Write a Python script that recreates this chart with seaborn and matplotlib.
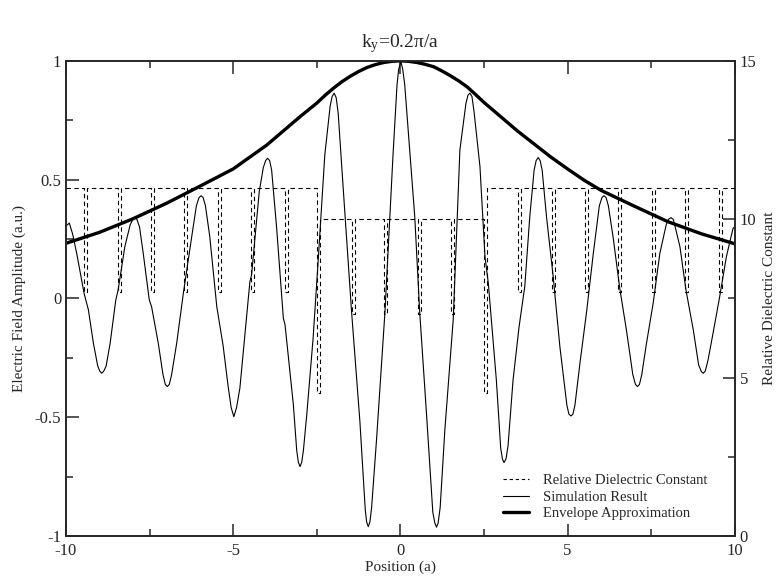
import matplotlib
matplotlib.use("Agg")
import matplotlib.pyplot as plt
import seaborn as sns
import pandas as pd
from matplotlib.ticker import MultipleLocator, FuncFormatter
from matplotlib.lines import Line2D

# ---------------- data ----------------
sim_x = [-10.00, -9.90, -9.80, -9.68, -9.55, -9.46, -9.33, -9.18, -9.05, -8.99,
         -8.93, -8.87, -8.80, -8.68, -8.51, -8.44, -8.24, -8.08, -8.00, -7.94,
         -7.88, -7.80, -7.69, -7.51, -7.44, -7.24, -7.10, -7.03, -6.97, -6.91,
         -6.84, -6.69, -6.49, -6.24, -6.10, -6.02, -5.96, -5.90, -5.83, -5.70,
         -5.49, -5.30, -5.15, -5.06, -4.98, -4.90, -4.80, -4.50,
         -4.45, -4.22, -4.10, -4.03, -3.97, -3.91, -3.85, -3.70, -3.50, -3.45,
         -3.20, -3.10, -3.05, -3.00, -2.95, -2.90, -2.80, -2.61, -2.46, -2.26,
         -2.10, -2.04, -1.98, -1.92, -1.86, -1.71, -1.46, -1.21, -1.05, -1.01,
         -0.96, -0.91, -0.86, -0.71, -0.46, -0.22, -0.10, -0.05, 0.015, 0.07,
         0.13, 0.28, 0.43, 0.58, 0.78, 0.97, 1.03, 1.08, 1.13, 1.19,
         1.33, 1.58, 1.78, 1.96, 2.02, 2.08, 2.14, 2.20, 2.38, 2.53,
         2.63, 2.87, 3.00, 3.05, 3.10, 3.16, 3.22, 3.37, 3.55, 3.72,
         3.87, 4.00, 4.06, 4.12, 4.18, 4.24, 4.37, 4.57, 4.77, 4.98,
         5.04, 5.10, 5.16, 5.22, 5.37, 5.57, 5.77, 5.95, 6.03, 6.09,
         6.15, 6.22, 6.36, 6.56, 6.76, 6.95, 7.03, 7.09, 7.15, 7.22,
         7.36, 7.56, 7.76, 7.95, 8.02, 8.09, 8.16, 8.22, 8.36, 8.54,
         8.76, 8.92, 9.00, 9.06, 9.12, 9.20, 9.35, 9.55, 9.75, 9.95,
         10.00]
sim_y = [0.305, 0.317, 0.27, 0.19, 0.09, 0.022, -0.048, -0.189, -0.285, -0.306,
         -0.315, -0.306, -0.285, -0.189, -0.006, 0.036, 0.218, 0.31, 0.333, 0.34,
         0.333, 0.30, 0.19, -0.006, -0.035, -0.189, -0.32, -0.362, -0.371, -0.362,
         -0.32, -0.189, 0.022, 0.26, 0.39, 0.425, 0.432, 0.425, 0.39, 0.26,
         -0.035, -0.20, -0.371, -0.46, -0.498, -0.46, -0.378, 0.071,
         0.099, 0.45, 0.55, 0.58, 0.59, 0.58, 0.54, 0.296, -0.083, -0.11,
         -0.448, -0.64, -0.69, -0.708, -0.69, -0.64, -0.49, -0.168, 0.155, 0.604,
         0.81, 0.85, 0.864, 0.845, 0.78, 0.464, -0.055, -0.519, -0.89, -0.94,
         -0.961, -0.94, -0.88, -0.589, -0.055, 0.604, 0.90, 0.965, 0.997, 0.965,
         0.90, 0.625, 0.344, -0.062, -0.483, -0.90, -0.945, -0.963, -0.945, -0.88,
         -0.554, -0.09, 0.625, 0.82, 0.855, 0.864, 0.85, 0.79, 0.555, 0.176,
         0.064, -0.343, -0.63, -0.675, -0.691, -0.675, -0.62, -0.343, -0.119, 0.05,
         0.344, 0.54, 0.58, 0.593, 0.58, 0.54, 0.344, 0.092, -0.203, -0.45,
         -0.487, -0.495, -0.487, -0.45, -0.273, -0.055, 0.19, 0.39, 0.425, 0.432,
         0.425, 0.39, 0.26, 0.043, -0.133, -0.32, -0.362, -0.371, -0.362, -0.32,
         -0.189, -0.02, 0.19, 0.31, 0.333, 0.34, 0.333, 0.30, 0.218, 0.036,
         -0.133, -0.28, -0.308, -0.315, -0.305, -0.26, -0.147, 0.008, 0.176, 0.296,
         0.30]

env_x = [-10.0, -9.0, -8.0, -7.0, -6.0, -5.0, -4.0, -3.0, -2.5, -2.25, -2.0,
         -1.75, -1.5, -1.25, -1.0, -0.75, -0.5, -0.25, 0.0, 0.25, 0.5, 0.75,
         1.0, 1.25, 1.5, 1.75, 2.0, 2.25, 2.5, 3.0, 3.5, 4.0, 4.5, 5.0, 5.5,
         6.0, 7.0, 8.0, 9.0, 10.0]
env_y = [0.232, 0.278, 0.335, 0.400, 0.472, 0.545, 0.645, 0.765, 0.822, 0.855,
         0.885, 0.912, 0.935, 0.955, 0.972, 0.984, 0.993, 0.998, 1.0, 0.998,
         0.993, 0.985, 0.975, 0.957, 0.937, 0.915, 0.890, 0.858, 0.825, 0.765,
         0.705, 0.650, 0.595, 0.545, 0.497, 0.455, 0.388, 0.323, 0.272, 0.230]

# dielectric profile: background levels and narrow dips (hole cross-sections)
eps_outer = 11.0
eps_inner = 10.0
inner_lo, inner_hi = -2.44, 2.55
dip_centers = [-9.41, -8.41, -7.40, -6.42, -5.41, -4.43, -3.41, -2.44,
               -1.40, -0.44, 0.57, 1.57, 2.55,
               3.57, 4.57, 5.58, 6.56, 7.56, 8.57, 9.56]
dip_depths = [7.7, 7.7, 7.7, 7.7, 7.7, 7.7, 7.7, 4.5,
              7.0, 7.0, 7.0, 7.0, 4.5,
              7.7, 7.7, 7.7, 7.7, 7.7, 7.7, 7.7]
dip_width = 0.09

# ---------------- build dielectric step path ----------------
def level(x):
    return eps_inner if inner_lo < x < inner_hi else eps_outer

ex, ey = [-10.0], [eps_outer]
for c, d in zip(dip_centers, dip_depths):
    a, b = c - dip_width / 2, c + dip_width / 2
    ex += [a, a, b, b]
    ey += [level(a - 0.06), d, d, level(b + 0.06)]
ex.append(10.0)
ey.append(eps_outer)

df_sim = pd.DataFrame({"x": sim_x, "y": sim_y})
df_env = pd.DataFrame({"x": env_x, "y": env_y})
df_eps = pd.DataFrame({"x": ex, "y": ey})

# ---------------- style ----------------
sns.set_theme(style="ticks")
plt.rcParams["font.family"] = ["Liberation Serif", "DejaVu Serif"]
plt.rcParams["mathtext.fontset"] = "custom"
plt.rcParams["mathtext.rm"] = "Liberation Serif"
plt.rcParams["mathtext.it"] = "Liberation Serif:italic"
plt.rcParams["axes.linewidth"] = 1.2

fig = plt.figure(figsize=(7.8, 5.85), dpi=100)
ax = fig.add_axes([0.0846, 0.0838, 0.942 - 0.0846, 0.896 - 0.0838])
ax2 = ax.twinx()

sns.lineplot(data=df_sim, x="x", y="y", ax=ax, color="black", lw=0.8,
             estimator=None, sort=False)
sns.lineplot(data=df_env, x="x", y="y", ax=ax, color="black", lw=2.4,
             estimator=None, sort=False)
sns.lineplot(data=df_eps, x="x", y="y", ax=ax2, color="black", lw=0.8,
             estimator=None, sort=False, linestyle=(0, (4, 3)))

ax.set_xlim(-10, 10)
ax.set_ylim(-1, 1)
ax2.set_ylim(0, 15)

ax.xaxis.set_major_locator(MultipleLocator(5))
ax.xaxis.set_minor_locator(MultipleLocator(2.5))
ax.yaxis.set_major_locator(MultipleLocator(0.5))
ax.yaxis.set_minor_locator(MultipleLocator(0.25))
ax2.yaxis.set_major_locator(MultipleLocator(5))
ax2.yaxis.set_minor_locator(MultipleLocator(2.5))

def fmt(v, p):
    if abs(v - round(v)) < 1e-9:
        return f"{int(round(v))}"
    return f"{v:g}"
ax.xaxis.set_major_formatter(FuncFormatter(fmt))
ax.yaxis.set_major_formatter(FuncFormatter(fmt))
ax2.yaxis.set_major_formatter(FuncFormatter(fmt))

ax.tick_params(axis="x", which="both", direction="in", top=True, bottom=True,
               labelsize=12, pad=5)
ax.tick_params(axis="y", which="both", direction="in", left=True, right=False,
               labelsize=12)
ax.tick_params(which="major", length=9, width=1.1)
ax.tick_params(which="minor", length=5, width=1.1)
ax2.tick_params(axis="y", which="both", direction="in", labelsize=12)
ax2.tick_params(which="major", length=9, width=1.1)
ax2.tick_params(which="minor", length=5, width=1.1)
for s in ax.spines.values():
    s.set_visible(True)

ax.set_xlabel("Position (a)", fontsize=11, labelpad=1)
ax.set_ylabel("Electric Field Amplitude (a.u.)", fontsize=11, labelpad=6)
ax2.set_ylabel("Relative Dielectric Constant", fontsize=11, labelpad=5)
ax.set_title("k$_{\\mathrm{y}}$=0.2\u03c0/a", fontsize=14, pad=10)

handles = [Line2D([], [], color="black", lw=0.8, linestyle=(0, (3, 2.5))),
           Line2D([], [], color="black", lw=0.8),
           Line2D([], [], color="black", lw=2.4)]
labels = ["Relative Dielectric Constant", "Simulation Result",
          "Envelope Approximation"]
ax2.legend(handles, labels, loc="lower right", bbox_to_anchor=(0.978, 0.005),
           frameon=False, fontsize=10.5, handlelength=1.8, handletextpad=0.9,
           labelspacing=0.25)

fig.savefig("out.png", dpi=100)
